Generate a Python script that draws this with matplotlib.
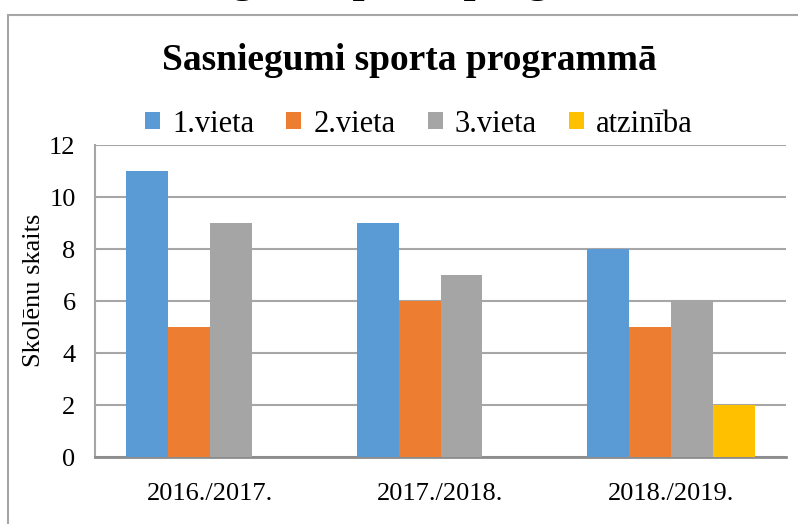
import matplotlib
matplotlib.use("Agg")
import matplotlib.pyplot as plt
from matplotlib.patches import Rectangle
import numpy as np

categories = ["2016./2017.", "2017./2018.", "2018./2019."]
series_names = ["1.vieta", "2.vieta", "3.vieta", "atzinība"]
vieta1 = [11, 9, 8]
vieta2 = [5, 6, 5]
vieta3 = [9, 7, 6]
atziniba = [0, 0, 2]
colors = ["#5B9BD5", "#ED7D31", "#A5A5A5", "#FFC000"]
yticks = [0, 2, 4, 6, 8, 10, 12]

plt.rcParams['font.family'] = ['Liberation Serif', 'DejaVu Serif']

fig = plt.figure(figsize=(7.98, 5.24), dpi=100)
W, H = 798, 524

# outer chart border (extends beyond canvas on right/bottom)
fig.patches.append(Rectangle((8 / W, -0.1), 1.2, 1 - 15 / H + 0.1, transform=fig.transFigure,
                             fill=False, edgecolor="#A6A6A6", linewidth=1.5))

# cut-off caption text at very top
fig.text(0.5, 1 + 8 / H, "Sasniegumi sporta programmā", ha="center", va="baseline",
         fontsize=31, fontweight="bold")

ax = fig.add_axes([95 / W, 1 - 457 / H, (786 - 95) / W, (457 - 145) / H])
x = np.arange(len(categories))
bw = 0.182
data = [vieta1, vieta2, vieta3, atziniba]
for i, (name, vals) in enumerate(zip(series_names, data)):
    ax.bar(x + (i - 1.5) * bw, vals, width=bw, color=colors[i], label=name, zorder=3)

ax.set_xlim(-0.5, 2.5)
ax.set_ylim(0, 12)
ax.set_yticks(yticks)
ax.set_yticklabels([str(v) for v in yticks])
ax.set_xticks(x)
ax.set_xticklabels(categories)
ax.tick_params(axis="both", length=0, labelsize=19)
ax.tick_params(axis="y", pad=14)
ax.tick_params(axis="x", pad=19)
ax.grid(axis="y", color="#A6A6A6", linewidth=1.5, zorder=0)
for s in ["top", "right"]:
    ax.spines[s].set_visible(False)
ax.spines["left"].set_color("#A6A6A6")
ax.spines["left"].set_linewidth(1.5)
ax.spines["bottom"].set_color("#8C8C8C")
ax.spines["bottom"].set_linewidth(2)
ax.set_ylabel("Skolēnu skaits", fontsize=19)
ax.yaxis.set_label_coords(-0.072, 0.535)

fig.text(409 / W, 1 - 60 / H, "Sasniegumi sporta programmā", ha="center", va="center",
         fontsize=27, fontweight="bold")

leg = fig.legend(loc="center", bbox_to_anchor=(419 / W, 1 - 124 / H), ncol=4, frameon=False,
                 fontsize=22, handlelength=0.49, handleheight=0.49, handletextpad=0.4,
                 columnspacing=1.05, borderpad=0)

fig.savefig("out.png", dpi=100)
